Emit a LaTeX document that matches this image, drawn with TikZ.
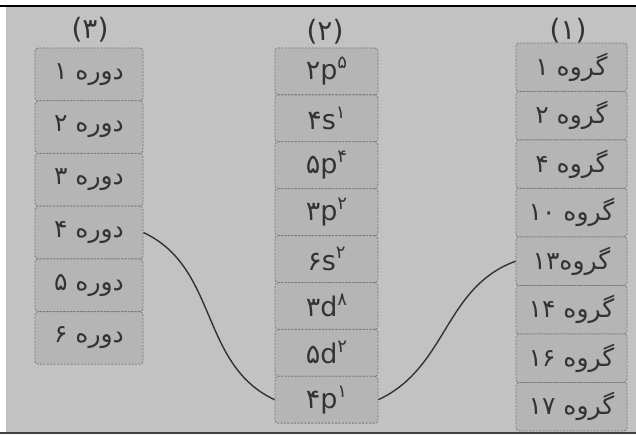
\documentclass[tikz,border=0pt]{standalone}
\usepackage{fontspec}
\setmainfont{DejaVu Sans}
\newfontfamily\fa[Script=Arabic]{DejaVu Sans}
\TeXXeTstate=1
\definecolor{paper}{gray}{0.76}
\definecolor{cell}{gray}{0.71}
\definecolor{rim}{gray}{0.47}
\definecolor{ink}{gray}{0.2}
\newcommand{\sups}[1]{\raisebox{0.75ex}{\fontsize{9}{10}\selectfont #1}}
\tikzset{
  cellbox/.style={draw=rim, dash pattern=on 1pt off 0.7pt, fill=cell,
    rounded corners=1.5pt, inner sep=0pt, text=ink,
    font=\fontsize{12.5}{14}\selectfont},
  periodbox/.style={cellbox, minimum width=54pt, minimum height=26.3pt},
  configbox/.style={cellbox, minimum width=51.5pt, minimum height=23.4pt,
    font=\fontsize{13.5}{15}\selectfont},
  groupbox/.style={cellbox, minimum width=55.5pt, minimum height=24.2pt},
  headlabel/.style={text=ink, inner sep=0pt, font=\fontsize{14}{15}\selectfont},
  link/.style={draw=ink, line width=0.7pt}
}
\begin{document}
\begin{tikzpicture}[x=0.5pt,y=0.5pt]
            \useasboundingbox (0,0) rectangle (636,434);
            \fill[white] (0,0) rectangle (636,434);
            \fill[paper] (6,2) rectangle (636,427);
            \fill[black!75] (0,0) rectangle (636,2);
            \draw[line width=1pt] (0,428) -- (636,428);
            % column (3)
            \node[headlabel] (h3) at (90,404) {(۳)};
            \node[periodbox] (p1) at (89,359.6) {\fa\beginR دوره ۱\endR};
            \node[periodbox] (p2) at (89,306.9) {\fa\beginR دوره ۲\endR};
            \node[periodbox] (p3) at (89,254.2) {\fa\beginR دوره ۳\endR};
            \node[periodbox] (p4) at (89,201.5) {\fa\beginR دوره ۴\endR};
            \node[periodbox] (p5) at (89,148.8) {\fa\beginR دوره ۵\endR};
            \node[periodbox] (p6) at (89,96.1) {\fa\beginR دوره ۶\endR};
            % column (2)
            \node[headlabel] (h2) at (325,402) {(۲)};
            \node[configbox] (c1) at (326.5,362.6) {۲p\sups{۵}};
            \node[configbox] (c2) at (326.5,315.7) {۴s\sups{۱}};
            \node[configbox] (c3) at (326.5,268.8) {۵p\sups{۴}};
            \node[configbox] (c4) at (326.5,221.9) {۳p\sups{۲}};
            \node[configbox] (c5) at (326.5,175.0) {۶s\sups{۲}};
            \node[configbox] (c6) at (326.5,128.1) {۳d\sups{۸}};
            \node[configbox] (c7) at (326.5,81.2) {۵d\sups{۲}};
            \node[configbox] (c8) at (326.5,34.3) {۴p\sups{۱}};
            % column (1)
            \node[headlabel] (h1) at (568,403) {(۱)};
            \node[groupbox] (g1) at (571.5,366.8) {\fa\beginR گروه ۱\endR};
            \node[groupbox] (g2) at (571.5,318.3) {\fa\beginR گروه ۲\endR};
            \node[groupbox] (g3) at (571.5,269.8) {\fa\beginR گروه ۴\endR};
            \node[groupbox] (g4) at (571.5,221.3) {\fa\beginR گروه ۱۰\endR};
            \node[groupbox] (g5) at (571.5,172.8) {\fa\beginR گروه۱۳\endR};
            \node[groupbox] (g6) at (571.5,124.3) {\fa\beginR گروه ۱۴\endR};
            \node[groupbox] (g7) at (571.5,75.8) {\fa\beginR گروه ۱۶\endR};
            \node[groupbox] (g8) at (571.5,27.3) {\fa\beginR گروه ۱۷\endR};
            \draw[link] (p4.east) to [out=-25,in=155] (c8.west);
            \draw[link] (c8.east) to [out=25,in=200] (g5.west);
        \end{tikzpicture}
\end{document}
